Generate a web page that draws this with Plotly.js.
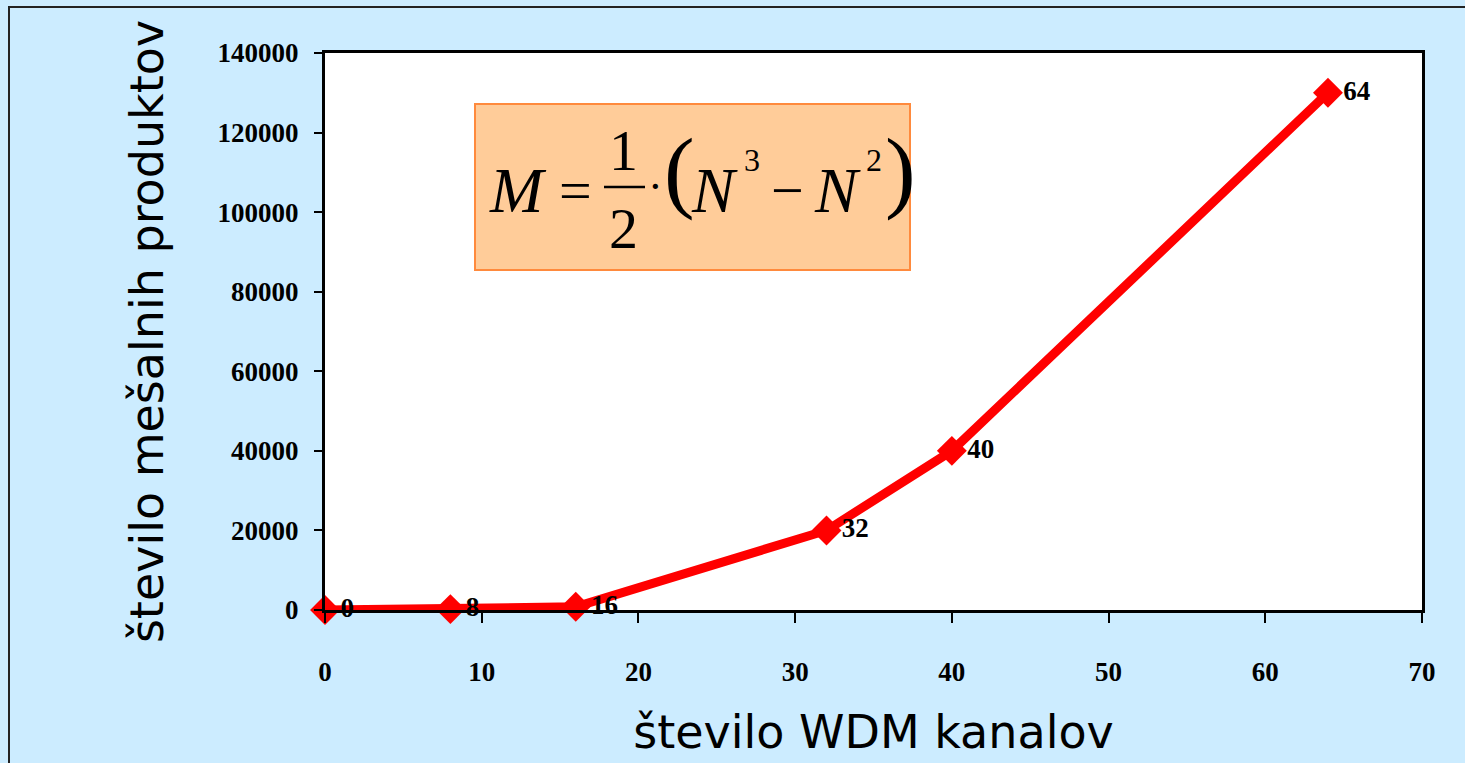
<!DOCTYPE html>
<html>
<head>
<meta charset="utf-8">
<script src="https://cdn.plot.ly/plotly-3.0.1.min.js"></script>
<style>
  html, body { margin: 0; padding: 0; background: #CCECFF; }
  #chart { width: 1465px; height: 763px; }
</style>
</head>
<body>
<div id="chart"></div>
<script>
// Data
const channels = [0, 8, 16, 32, 40, 64];               // število WDM kanalov
const products = [0, 224, 800, 20000, 40000, 130000];   // število mešalnih produktov
const pointLabels = ['0', '8', '16', '32', '40', '64'];
const xTitle = 'število WDM kanalov';
const yTitle = 'število mešalnih produktov';

const W = 1465, H = 763;
const M = { l: 325, r: 43, t: 53, b: 153 };
const PW = W - M.l - M.r, PH = H - M.t - M.b;
const px = x => (x - M.l) / PW;
const py = y => (H - M.b - y) / PH;

const serif = 'Liberation Serif, Times New Roman, serif';
const sans = 'DejaVu Sans, Verdana, sans-serif';

const trace = {
  x: channels,
  y: products,
  text: pointLabels,
  type: 'scatter',
  mode: 'lines+markers+text',
  textposition: 'middle right',
  textfont: { family: serif, size: 27, color: '#000', weight: 'bold' },
  line: { color: '#FF0000', width: 9 },
  marker: { symbol: 'diamond', size: 23, color: '#FF0000' },
  cliponaxis: false,
  hoverinfo: 'x+y'
};

function ann(text, x, y, size, opts) {
  return Object.assign({
    text: text, xref: 'paper', yref: 'paper', x: px(x), y: py(y),
    xanchor: 'center', yanchor: 'middle', showarrow: false,
    font: { family: serif, size: size, color: '#000' }
  }, opts || {});
}

const layout = {
  width: W, height: H,
  margin: M,
  paper_bgcolor: '#CCECFF',
  plot_bgcolor: '#FFFFFF',
  showlegend: false,
  xaxis: {
    range: [0, 70], dtick: 10, tick0: 0,
    showgrid: false, zeroline: false,
    showline: true, linecolor: '#000', linewidth: 3, mirror: true,
    ticks: 'outside', ticklen: 10, tickwidth: 2, tickcolor: '#000',
    ticklabelstandoff: 26,
    tickfont: { family: serif, size: 27, color: '#000', weight: 'bold' },
    title: { text: xTitle, font: { family: sans, size: 46, color: '#000' }, standoff: 30 }
  },
  yaxis: {
    range: [0, 140000], dtick: 20000, tick0: 0, tickformat: 'd',
    showgrid: false, zeroline: false,
    showline: true, linecolor: '#000', linewidth: 3, mirror: true,
    ticks: 'outside', ticklen: 8, tickwidth: 2, tickcolor: '#000',
    ticklabelstandoff: 10,
    tickfont: { family: serif, size: 27, color: '#000', weight: 'bold' },
    title: { text: yTitle, font: { family: sans, size: 46, color: '#000' }, standoff: 40 }
  },
  shapes: [
    // outer slide frame
    { type: 'rect', xref: 'paper', yref: 'paper', layer: 'above',
      x0: px(9), x1: px(1475), y0: py(775), y1: py(7),
      line: { color: '#222', width: 2 }, fillcolor: 'rgba(0,0,0,0)' },
    // formula box
    { type: 'rect', xref: 'paper', yref: 'paper', layer: 'above',
      x0: px(475), x1: px(910), y0: py(270), y1: py(104),
      line: { color: '#FF8A3D', width: 2 }, fillcolor: '#FFCC99' },
    // fraction bar
    { type: 'line', xref: 'paper', yref: 'paper', layer: 'above',
      x0: px(604), x1: px(645), y0: py(187), y1: py(187),
      line: { color: '#000', width: 2.5 } }
  ],
  annotations: [
    ann('<i>M</i>', 518, 190, 64),
    ann('=', 575, 190, 58),
    ann('1', 623, 150, 58),
    ann('2', 623, 228, 58),
    ann('·', 655, 186, 44),
    ann('(', 679, 170, 92),
    ann('<i>N</i>', 740, 190, 64, { xanchor: 'right' }),
    ann('3', 742, 160, 32, { xanchor: 'left' }),
    ann('−', 787, 190, 58),
    ann('<i>N</i>', 863, 190, 64, { xanchor: 'right' }),
    ann('2', 864, 160, 32, { xanchor: 'left' }),
    ann(')', 900, 170, 92)
  ]
};

Plotly.newPlot('chart', [trace], layout, { displayModeBar: false, staticPlot: true });
</script>
</body>
</html>
